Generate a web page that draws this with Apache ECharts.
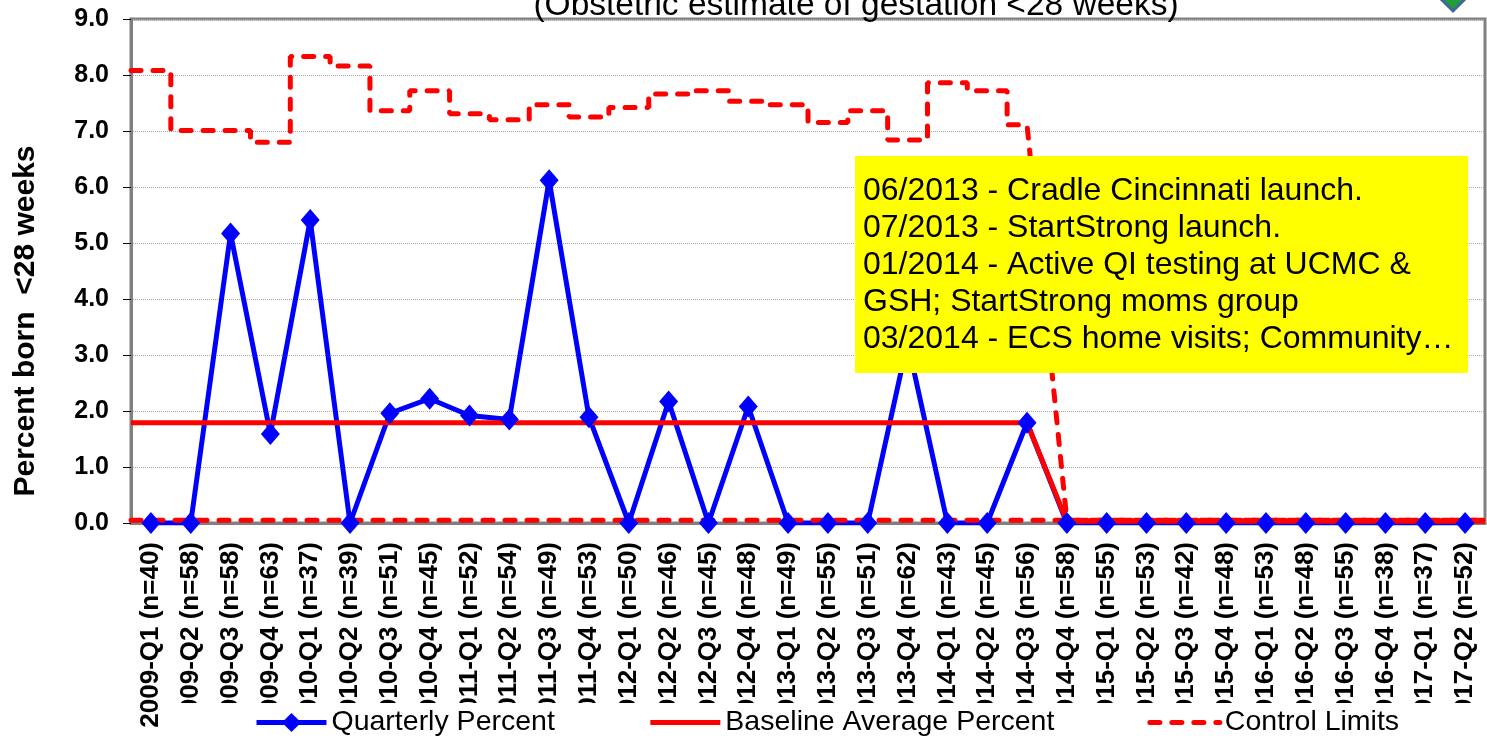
<!DOCTYPE html>
<html>
<head>
<meta charset="utf-8">
<script src="https://cdn.jsdelivr.net/npm/echarts@6/dist/echarts.min.js"></script>
<style>
  html, body { margin: 0; padding: 0; background: #fff; }
  #chart { width: 1487px; height: 739px; }
</style>
</head>
<body>
<div id="chart"></div>
<script>
// quarters and sample sizes (n) shown on the x axis
var quarters = [
  '2009-Q1', '2009-Q2', '2009-Q3', '2009-Q4',
  '2010-Q1', '2010-Q2', '2010-Q3', '2010-Q4',
  '2011-Q1', '2011-Q2', '2011-Q3', '2011-Q4',
  '2012-Q1', '2012-Q2', '2012-Q3', '2012-Q4',
  '2013-Q1', '2013-Q2', '2013-Q3', '2013-Q4',
  '2014-Q1', '2014-Q2', '2014-Q3', '2014-Q4',
  '2015-Q1', '2015-Q2', '2015-Q3', '2015-Q4',
  '2016-Q1', '2016-Q2', '2016-Q3', '2016-Q4',
  '2017-Q1', '2017-Q2'
];
var sampleSizes = [40, 58, 58, 63, 37, 39, 51, 45, 52, 54, 49, 53, 50, 46, 45, 48, 49,
  55, 51, 62, 43, 45, 56, 58, 55, 53, 42, 48, 53, 48, 55, 38, 37, 52];

var quarterlyPercent = [0, 0, 5.17, 1.59, 5.41, 0, 1.96, 2.22, 1.92, 1.85, 6.12, 1.89,
  0, 2.17, 0, 2.08, 0, 0, 0, 3.23, 0, 0, 1.79, 0, 0, 0, 0, 0, 0, 0, 0, 0, 0, 0];
var baselineAverage = [1.79, 1.79, 1.79, 1.79, 1.79, 1.79, 1.79, 1.79, 1.79, 1.79, 1.79, 1.79,
  1.79, 1.79, 1.79, 1.79, 1.79, 1.79, 1.79, 1.79, 1.79, 1.79, 1.79,
  0.03, 0.03, 0.03, 0.03, 0.03, 0.03, 0.03, 0.03, 0.03, 0.03, 0.03];
var upperLimit = [8.08, 7.01, 7.01, 6.80, 8.33, 8.16, 7.36, 7.72, 7.31, 7.20, 7.47, 7.25,
  7.42, 7.66, 7.72, 7.53, 7.47, 7.15, 7.36, 6.84, 7.86, 7.72, 7.11,
  0.05, 0.05, 0.05, 0.05, 0.05, 0.05, 0.05, 0.05, 0.05, 0.05, 0.05];
var lowerLimit = [0.05, 0.05, 0.05, 0.05, 0.05, 0.05, 0.05, 0.05, 0.05, 0.05, 0.05, 0.05,
  0.05, 0.05, 0.05, 0.05, 0.05, 0.05, 0.05, 0.05, 0.05, 0.05, 0.05,
  0.05, 0.05, 0.05, 0.05, 0.05, 0.05, 0.05, 0.05, 0.05, 0.05, 0.05];
var baselineCount = 23; // 2009-Q1 .. 2014-Q3

var yMin = 0, yMax = 9, yStep = 1;

var notes = [
  '06/2013 - Cradle Cincinnati launch.',
  '07/2013 - StartStrong launch.',
  '01/2014 - Active QI testing at UCMC &',
  'GSH; StartStrong moms group',
  '03/2014 - ECS home visits; Community\u2026'
];

var FONT = '"Liberation Sans", Arial, sans-serif';
var labels = quarters.map(function (q, i) {
  return q + ' (n=' + sampleSizes[i] + ')';
});

// control limits are steps that fill each quarter
function stepLine(vals) {
  var pts = [];
  for (var i = 0; i < vals.length; i++) {
    if (i < baselineCount) {
      pts.push([i - 0.5, vals[i]]);
      pts.push([i < baselineCount - 1 ? i + 0.5 : i, vals[i]]);
    } else {
      pts.push([i, vals[i]]);
    }
  }
  pts.push([vals.length - 0.5, vals[vals.length - 1]]);
  return pts;
}

// baseline runs edge to edge through the quarter centres
function edgeLine(vals) {
  var pts = [[-0.5, vals[0]]];
  for (var i = 0; i < vals.length; i++) {
    pts.push([i, vals[i]]);
  }
  pts.push([vals.length - 0.5, vals[vals.length - 1]]);
  return pts;
}

var chart = echarts.init(document.getElementById('chart'));

var controlStyle = { color: '#ff0000', width: 5, type: [10, 12], cap: 'round' };

chart.setOption({
  animation: false,
  grid: {
    left: 131, right: 2, top: 19, bottom: 216,
    show: true, borderColor: '#808080', borderWidth: 3
  },
  legend: {
    data: [
      { name: 'Quarterly Percent' },
      { name: 'Baseline Average Percent', itemStyle: { opacity: 0 } },
      { name: 'Control Limits', itemStyle: { opacity: 0 } }
    ],
    left: 170,
    top: 703,
    width: 1300,
    padding: [5, 100, 5, 84],
    backgroundColor: '#fff',
    itemWidth: 70,
    itemHeight: 24,
    itemGap: 93,
    lineStyle: { width: 5 },
    textStyle: { fontSize: 28.5, color: '#000', fontFamily: FONT }
  },
  xAxis: [
    {
      type: 'category',
      data: labels,
      boundaryGap: true,
      axisLine: { lineStyle: { color: '#808080', width: 3 } },
      axisTick: { length: 8, lineStyle: { color: '#000', width: 1 } },
      axisLabel: {
        interval: 0, rotate: 90, margin: 19,
        fontSize: 26, fontWeight: 'bold', color: '#000', fontFamily: FONT
      },
      splitLine: { show: false }
    },
    { type: 'value', min: -0.5, max: quarters.length - 0.5, show: false }
  ],
  yAxis: {
    type: 'value',
    min: yMin, max: yMax, interval: yStep,
    axisLine: { show: true, onZero: false, lineStyle: { color: '#808080', width: 3 } },
    axisTick: { show: true, length: 8, lineStyle: { color: '#000', width: 1 } },
    axisLabel: {
      margin: 22, fontSize: 25, fontWeight: 'bold', color: '#000', fontFamily: FONT,
      formatter: function (v) { return v.toFixed(1); }
    },
    splitLine: { lineStyle: { color: '#a6a6a6', type: 'dotted', width: 1 } }
  },
  series: [
    {
      name: 'Quarterly Percent',
      type: 'line',
      data: quarterlyPercent,
      symbol: 'diamond',
      symbolSize: [19, 22],
      itemStyle: { color: '#0000ff' },
      lineStyle: { color: '#0000ff', width: 5 }
    },
    {
      name: 'Baseline Average Percent',
      type: 'line',
      xAxisIndex: 1,
      data: edgeLine(baselineAverage),
      symbol: 'none',
      z: 3,
      itemStyle: { color: '#ff0000' },
      lineStyle: { color: '#ff0000', width: 5 }
    },
    {
      name: 'Control Limits',
      type: 'line',
      xAxisIndex: 1,
      data: stepLine(upperLimit),
      symbol: 'none',
      z: 3,
      itemStyle: { color: '#ff0000' },
      lineStyle: controlStyle
    },
    {
      name: 'Control Limits',
      type: 'line',
      xAxisIndex: 1,
      data: stepLine(lowerLimit),
      symbol: 'none',
      z: 3,
      itemStyle: { color: '#ff0000' },
      lineStyle: controlStyle
    }
  ],
  graphic: [
    {
      type: 'text', x: 856, y: 6, z: 10,
      style: {
        text: '(Obstetric estimate of gestation <28 weeks)',
        fontSize: 33.5, fontFamily: FONT, fill: '#000',
        align: 'center', verticalAlign: 'middle'
      }
    },
    {
      type: 'text', x: 26, y: 321, rotation: Math.PI / 2, z: 10,
      style: {
        text: 'Percent born  <28 weeks',
        fontSize: 30, fontWeight: 'bold', fontFamily: FONT, fill: '#000',
        align: 'center', verticalAlign: 'middle'
      }
    },
    {
      type: 'polygon', z: 10,
      shape: { points: [[1453, -17], [1467, -3], [1453, 11], [1439, -3]] },
      style: { fill: '#1f9e3a', stroke: '#41679a', lineWidth: 3 }
    },
    {
      type: 'group', x: 855, y: 156, z: 20,
      children: [
        {
          type: 'rect', z: 20,
          shape: { x: 0, y: 0, width: 613, height: 217 },
          style: { fill: '#ffff00' }
        },
        {
          type: 'text', x: 8, y: 17, z: 21,
          style: {
            text: notes.join('\n'),
            fontSize: 32, lineHeight: 37, fontFamily: FONT, fill: '#000',
            align: 'left', verticalAlign: 'top'
          }
        }
      ]
    }
  ]
});
</script>
</body>
</html>
